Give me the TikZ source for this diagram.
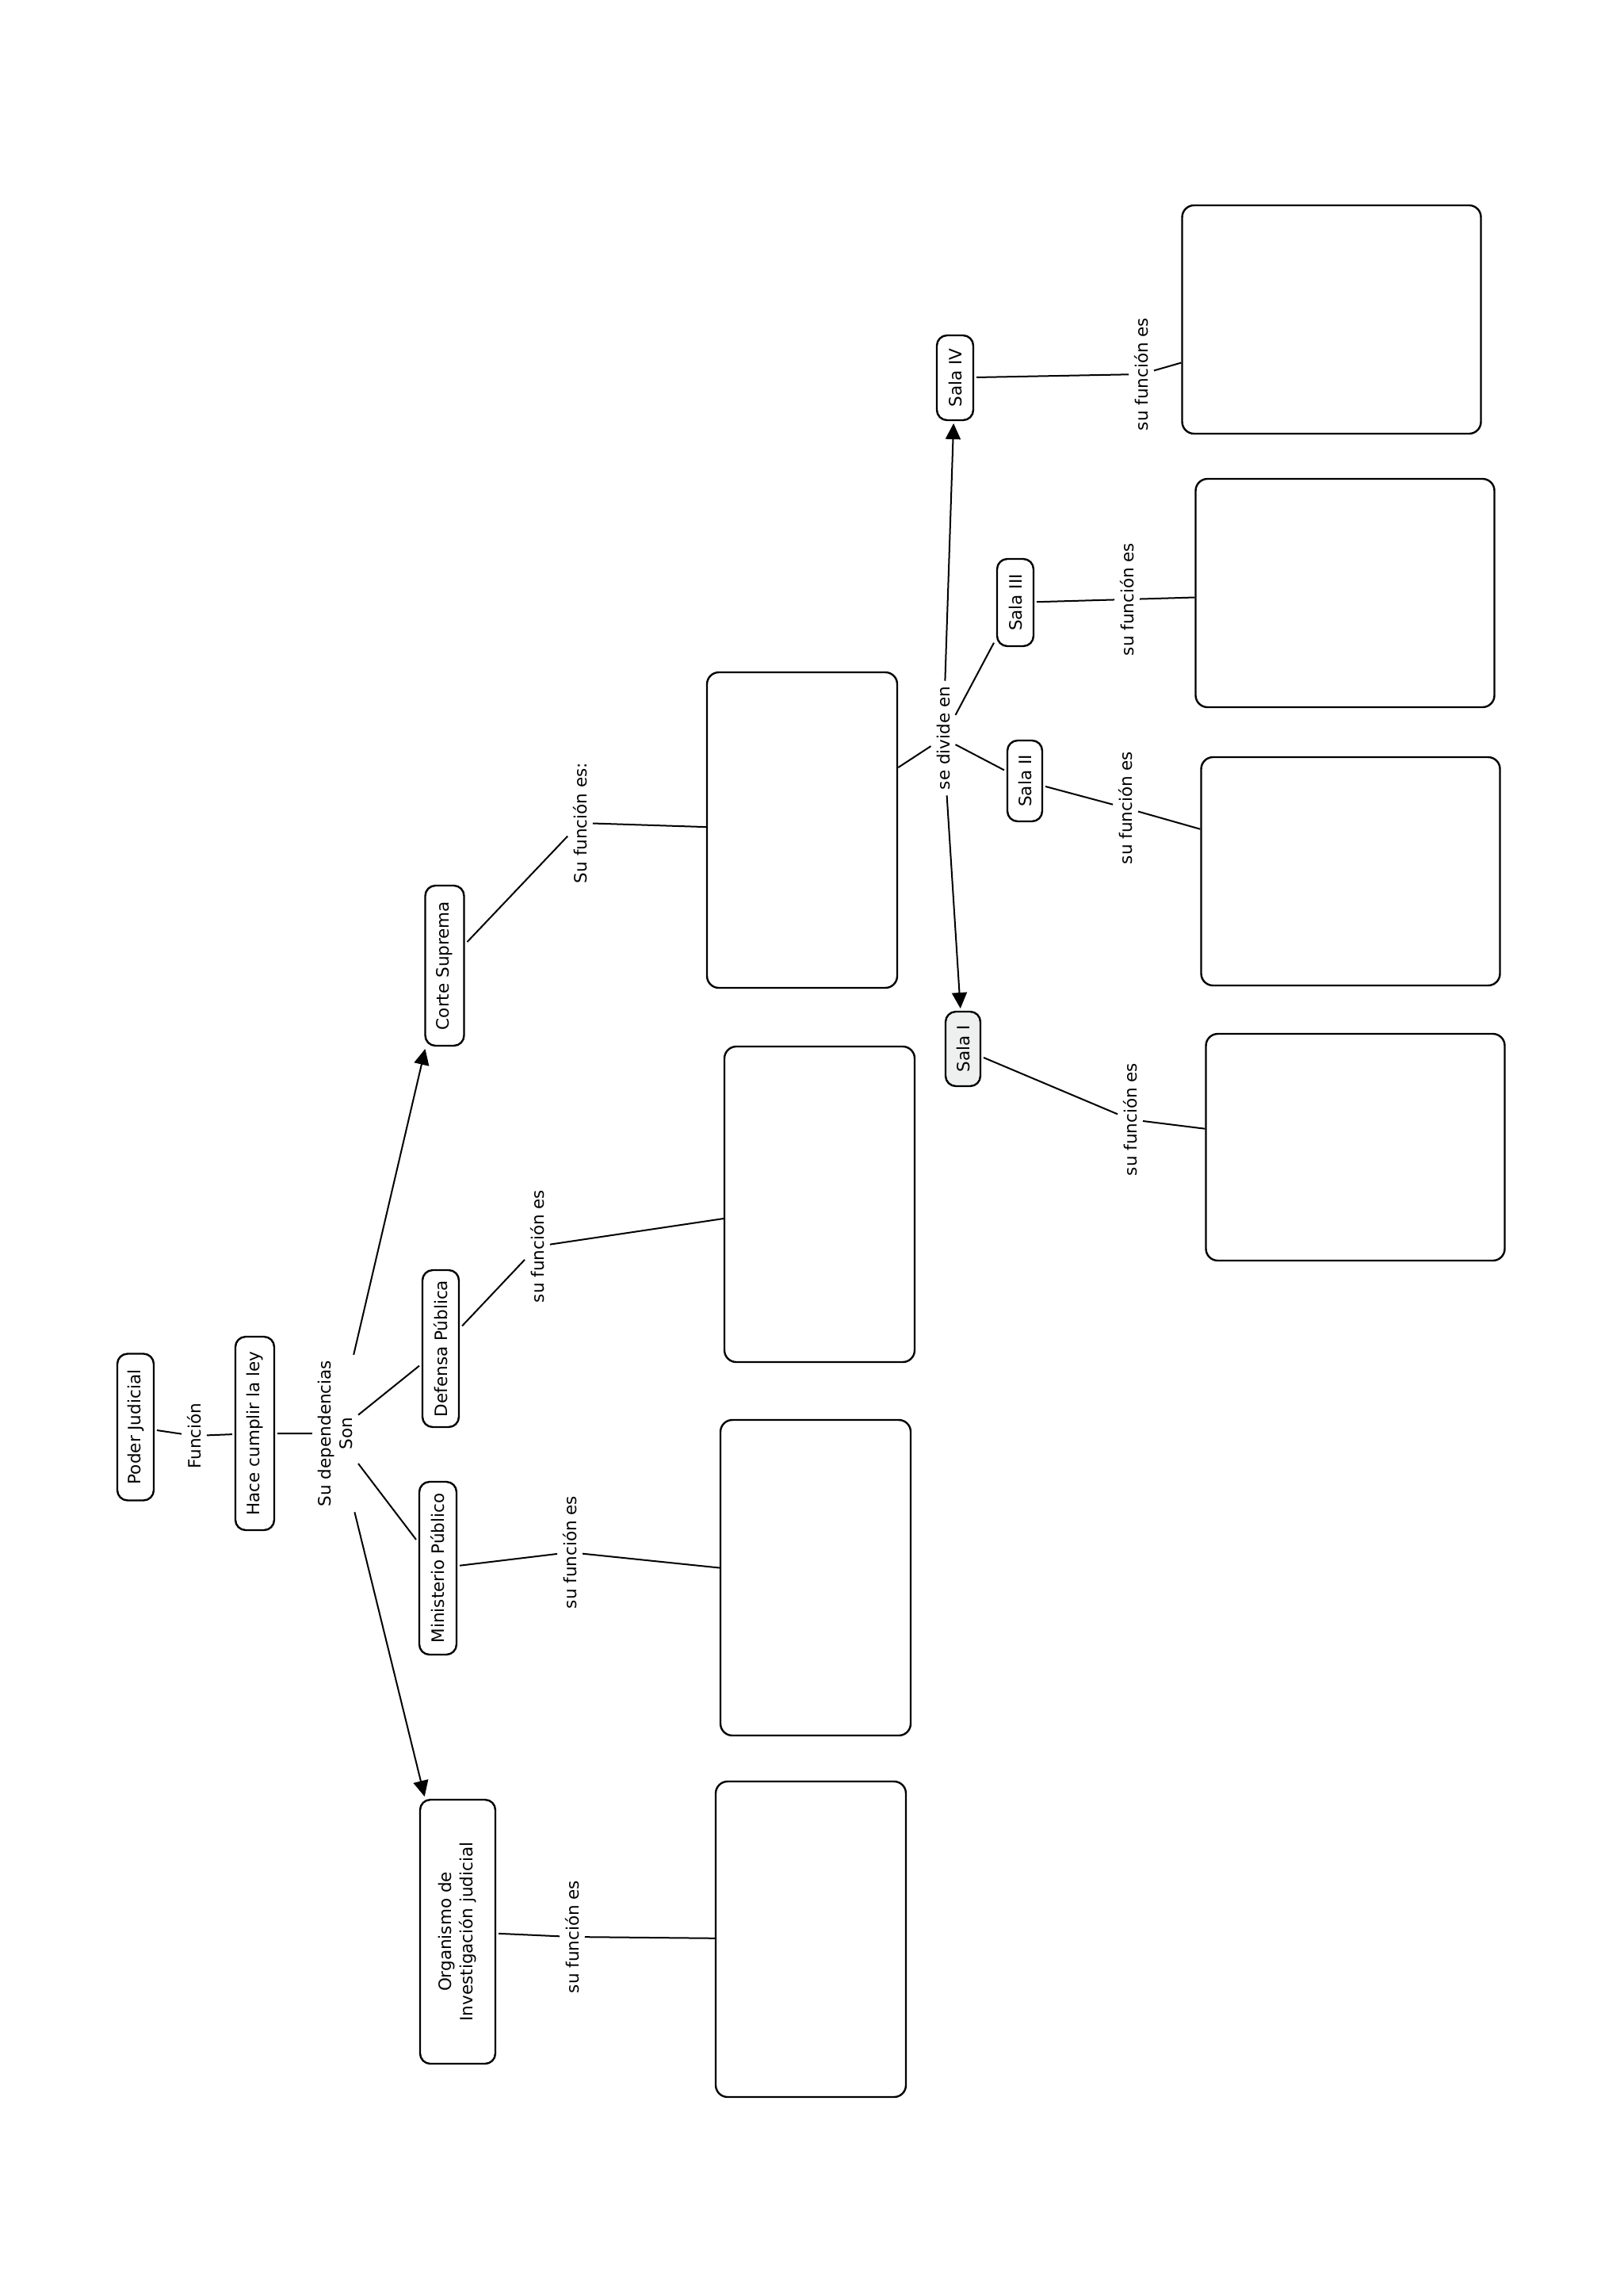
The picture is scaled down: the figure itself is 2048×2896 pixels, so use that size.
\documentclass[tikz,border=0pt]{standalone}
\usepackage{fontspec}
\setmainfont{DejaVu Sans}
\usetikzlibrary{arrows.meta}
\definecolor{grisala}{RGB}{238,240,240}

\begin{document}
\begin{tikzpicture}[x=1pt, y=-1pt,
  font=\fontsize{21.5}{27}\selectfont,
  >={Triangle[length=20pt,width=19pt]},
  concepto/.style={draw, line width=2.4pt, rounded corners=13pt, rotate=90, align=center,
    inner xsep=10pt, inner ysep=4pt, minimum height=46pt, outer sep=4pt},
  enlace/.style={rotate=90, align=center, inner sep=7pt},
  caja/.style={draw, line width=2.4pt, rounded corners=15pt},
  cajaA/.style={caja, minimum width=240pt, minimum height=398pt},
  cajaB/.style={caja, minimum width=377pt, minimum height=288pt},
  linea/.style={line width=2pt}]

\useasboundingbox (0,0) rectangle (2048,2896);

\node [concepto, minimum width=185pt] (poder) at (171,1800) {Poder Judicial};

\node [enlace] (funcion) at (245,1811) {Función};

\node [concepto, minimum width=244pt, minimum height=49pt] (hace) at (321.5,1808) {Hace cumplir la ley};

\node [enlace] (sudep) at (423,1808) {Su dependencias\\Son};

\node [concepto, minimum width=202pt, minimum height=49pt] (corte) at (561,1218) {Corte Suprema};

\node [concepto, minimum width=198pt] (defensa) at (556,1701) {Defensa Pública};

\node [concepto, minimum width=218pt, minimum height=47pt] (ministerio) at (552.5,1978) {Ministerio Público};

\node [concepto, minimum width=333pt, minimum height=95pt] (organismo) at (577.5,2436.5) {Organismo de\\Investigación judicial};

\node [enlace] (fcorte) at (732,1038) {Su función es:};
\node [enlace] (fdef) at (678,1572) {su función es};
\node [enlace] (fmin) at (719,1958) {su función es};
\node [enlace] (forg) at (722,2443) {su función es};

\node [cajaA] (bcorte) at (1012,1047) {};
\node [cajaA] (bdef) at (1034,1519) {};
\node [cajaA] (bmin) at (1029,1990) {};
\node [cajaA] (borg) at (1023,2446) {};

\node [enlace] (divide) at (1190,931) {se divide en};

\node [concepto, minimum width=107pt] (salaIV) at (1205,476.5) {Sala IV};
\node [concepto, minimum width=110pt] (salaIII) at (1281,760) {Sala III};
\node [concepto, minimum width=102pt, minimum height=44pt] (salaII) at (1293,985) {Sala II};
\node [concepto, minimum width=94pt, minimum height=44pt, fill=grisala] (salaI) at (1215,1323) {Sala I};

\node [enlace] (fIV) at (1440,472) {su función es};
\node [enlace] (fIII) at (1422,756) {su función es};
\node [enlace] (fII) at (1420,1019) {su función es};
\node [enlace] (fI) at (1426,1412) {su función es};

\node [cajaB] (bIV) at (1680,403) {};
\node [cajaB] (bIII) at (1697,748) {};
\node [cajaB] (bII) at (1704,1099) {};
\node [cajaB, minimum height=286pt] (bI) at (1710,1447) {};

\draw[linea] (poder) -- (funcion) -- (hace) -- (sudep);
\draw[linea, ->] (sudep) -- (corte);
\draw[linea] (sudep) -- (defensa);
\draw[linea] (sudep) -- (ministerio);
\draw[linea, ->] (sudep) -- (organismo);

\draw[linea] (corte) -- (fcorte) -- (bcorte);
\draw[linea] (defensa) -- (fdef) -- (bdef);
\draw[linea] (ministerio) -- (fmin) -- (bmin);
\draw[linea] (organismo) -- (forg) -- (borg);

\draw[linea] (bcorte) -- (divide);
\draw[linea, ->] (divide) -- (salaIV);
\draw[linea] (divide) -- (salaIII);
\draw[linea] (divide) -- (salaII);
\draw[linea, ->] (divide) -- (salaI);

\draw[linea] (salaIV) -- (fIV) -- (bIV);
\draw[linea] (salaIII) -- (fIII) -- (bIII);
\draw[linea] (salaII) -- (fII) -- (bII);
\draw[linea] (salaI) -- (fI) -- (bI);

\end{tikzpicture}
\end{document}
